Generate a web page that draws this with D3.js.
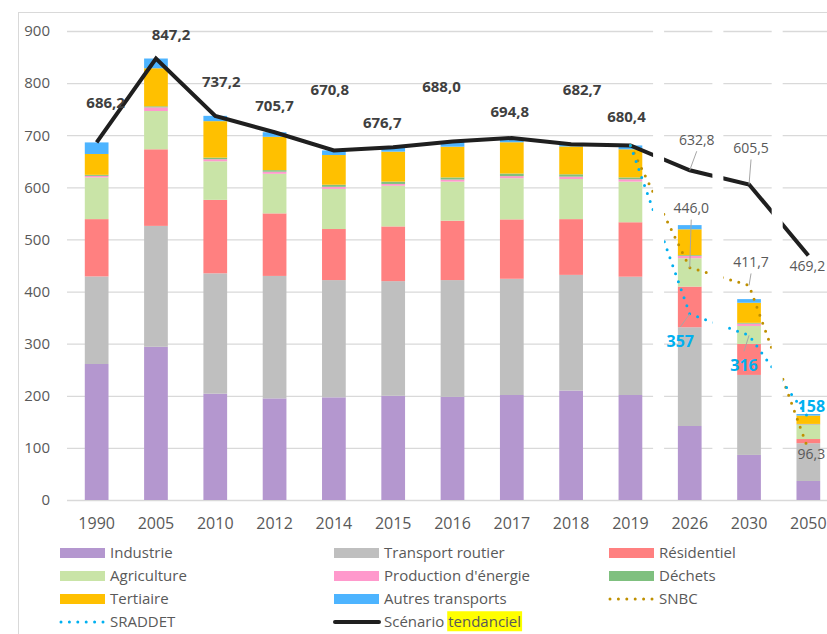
<!DOCTYPE html>
<html>
<head>
<meta charset="utf-8">
<script src="https://cdn.jsdelivr.net/npm/d3@7"></script>
<style>
  body { margin: 0; background: #fff; }
  svg { display: block; font-family: "Open Sans", sans-serif; }
</style>
</head>
<body>
<div id="canvas"></div>
<script>
"use strict"

/* categories */
let years = ["1990", "2005", "2010", "2012", "2014", "2015", "2016", "2017", "2018", "2019", "2026", "2030", "2050"];

/* emissions by sector (stacked bars, bottom to top) */
let industrie   = [261, 294, 204, 195, 197, 200, 198, 201.5, 210, 201.5, 142, 86.5, 36.5];
let transport   = [168, 232, 231, 235, 225, 220, 224, 223, 222, 227, 189.5, 153.5, 72.5];
let residentiel = [110, 147, 141, 120, 98, 105, 114, 114, 107, 104.5, 78, 59.5, 8];
let agriculture = [80, 73.5, 74, 76, 77, 78, 75, 79, 77, 78, 54.5, 34.5, 27];
let production  = [3, 7, 4, 4, 4, 3.5, 4, 4, 4.5, 4.5, 4.5, 4.5, 1];
let dechets     = [2, 2, 3, 3, 4, 4.5, 4, 5, 4.5, 3.5, 1.5, 1.5, 1];
let tertiaire   = [40, 73, 70, 64, 57, 57.5, 59, 60, 53.5, 54, 49.5, 38.5, 16];
let autres      = [22.2, 18.7, 10.2, 8.7, 8.8, 8.2, 10, 8.3, 4.2, 7.4, 8, 7, 3];

/* scenario lines */
let tendanciel = [686.2, 847.2, 737.2, 705.7, 670.8, 676.7, 688.0, 694.8, 682.7, 680.4, 632.8, 605.5, 469.2];
let scenarioYears = ["2019", "2026", "2030", "2050"];
let snbc    = [680.4, 446.0, 411.7, 96.3];
let sraddet = [680.4, 357, 316, 158];

/* y axis ticks */
let yTicks = [0, 100, 200, 300, 400, 500, 600, 700, 800, 900];

/* series names and colours */
let sectorKeys = ["Industrie", "Transport routier", "Résidentiel", "Agriculture",
                  "Production d'énergie", "Déchets", "Tertiaire", "Autres transports"];
let sectorColors = ["#b497cf", "#bfbfbf", "#ff8080", "#c9e4a7", "#ff99cc", "#7fc07f", "#ffc000", "#4db4ff"];
let sectorValues = [industrie, transport, residentiel, agriculture, production, dechets, tertiaire, autres];

/* label placement (offset of the label centre from its point) */
let tendLabelOffsets = [[9, -40], [15, -24], [6, -34], [0, -27], [-4, -61], [-11, -25], [-11, -55],
                        [-2, -26], [11, -54], [-4, -29], [7, -30], [2, -36], [-1, 11]];
let snbcLabelOffsets = [null, [1.5, -59], [2, -23], [3, 4]];
let sraddetLabelOffsets = [null, [-9.5, 27], [-5, 30], [3, -11]];

let fr = d3.formatLocale({decimal: ",", thousands: " ", grouping: [3], currency: ["", " €"]});
let fmt1 = fr.format(".1f");
let fmt0 = fr.format(".0f");

/* drawing canvas */
let drawing = d3.select("#canvas")
  .append("svg")
  .attr("width", 827)
  .attr("height", 634);

/* chart frame */
let frame = drawing.append("rect")
  .attr("x", 18.5)
  .attr("y", 12.5)
  .attr("width", 900)
  .attr("height", 700)
  .attr("fill", "none")
  .attr("stroke", "#d9d9d9");

/* scales */
let x = d3.scaleBand()
  .domain(years)
  .range([67, 838])
  .paddingInner(0.6)
  .paddingOuter(0.3);

let y = d3.scaleLinear()
  .domain([0, 900])
  .range([500, 31]);

let bw = x.bandwidth();
let cx = year => x(year) + bw / 2;

/* gridlines + y labels */
let yAxis = drawing.append("g")
  .attr("transform", "translate(67,0)")
  .call(d3.axisLeft(y).tickValues(yTicks).tickSize(-(838 - 67)).tickPadding(17).tickFormat(d3.format("d")));
yAxis.select(".domain").remove();
yAxis.selectAll("line").attr("stroke", "#d9d9d9").attr("stroke-width", 1.3);
yAxis.selectAll("text").attr("fill", "#595959").attr("font-size", 15).attr("font-family", "Open Sans");

/* x labels */
let xAxis = drawing.append("g")
  .attr("transform", "translate(0,500)")
  .call(d3.axisBottom(x).tickSize(0).tickPadding(18));
xAxis.select(".domain").remove();
xAxis.selectAll("text").attr("fill", "#595959").attr("font-size", 16).attr("font-family", "Open Sans");

/* stacked bars */
let table = years.map((yr, i) => {
  let row = {year: yr};
  sectorKeys.forEach((k, j) => row[k] = sectorValues[j][i]);
  return row;
});
let stacked = d3.stack().keys(sectorKeys)(table);

let bars = drawing.append("g")
  .selectAll("g")
  .data(stacked)
  .join("g")
  .attr("fill", (d, i) => sectorColors[i])
  .selectAll("rect")
  .data(d => d)
  .join("rect")
  .attr("x", d => x(d.data.year))
  .attr("y", d => y(d[1]))
  .attr("width", bw)
  .attr("height", d => y(d[0]) - y(d[1]));

/* lines */
let line = d3.line()
  .x(d => cx(d.year))
  .y(d => y(d.value));

let tendPts = years.map((yr, i) => ({year: yr, value: tendanciel[i]}));
let snbcPts = scenarioYears.map((yr, i) => ({year: yr, value: snbc[i]}));
let sraddetPts = scenarioYears.map((yr, i) => ({year: yr, value: sraddet[i]}));

let tendLine = drawing.append("path")
  .datum(tendPts)
  .attr("d", line)
  .attr("fill", "none")
  .attr("stroke", "#1f1f1f")
  .attr("stroke-width", 4);

let snbcLine = drawing.append("path")
  .datum(snbcPts)
  .attr("d", line)
  .attr("fill", "none")
  .attr("stroke", "#bf9000")
  .attr("stroke-width", 3)
  .attr("stroke-linecap", "round")
  .attr("stroke-dasharray", "0,8.5");

let sraddetLine = drawing.append("path")
  .datum(sraddetPts)
  .attr("d", line)
  .attr("fill", "none")
  .attr("stroke", "#00b0f0")
  .attr("stroke-width", 3)
  .attr("stroke-linecap", "round")
  .attr("stroke-dasharray", "0,8.5");

/* white separators before the forecast years */
let gaps = drawing.append("g")
  .selectAll("rect")
  .data(["2026", "2030", "2050"])
  .join("rect")
  .attr("x", d => x(d) - x.step() * 0.3 - 7)
  .attr("y", 13)
  .attr("width", 11)
  .attr("height", 484)
  .attr("fill", "white");

/* labels */
function addLabels(pts, offsets, opts) {
  let g = drawing.append("g");
  pts.forEach((p, i) => {
    let off = offsets[i];
    if (!off) return;
    let px = cx(p.year), py = y(p.value);
    let lx = px + off[0], ly = py + off[1];
    let o = opts(i);
    if (o.leader) {
      g.append("line")
        .attr("x1", lx)
        .attr("y1", ly + (off[1] < 0 ? 11 : -14))
        .attr("x2", px)
        .attr("y2", py)
        .attr("stroke", "#a6a6a6")
        .attr("stroke-width", 1);
    }
    g.append("text")
      .attr("x", lx)
      .attr("y", ly)
      .attr("dy", "0.35em")
      .attr("text-anchor", "middle")
      .attr("font-size", o.size)
      .attr("font-weight", o.weight)
      .attr("fill", o.color)
      .text(o.format(p.value));
  });
}

addLabels(tendPts, tendLabelOffsets, i => i < 10
  ? {size: 15, weight: "bold", color: "#404040", format: fmt1, leader: false}
  : {size: 14, weight: "normal", color: "#595959", format: fmt1, leader: i < 12});

addLabels(snbcPts, snbcLabelOffsets, i => (
  {size: 14, weight: "normal", color: "#595959", format: fmt1, leader: i < 3}));

addLabels(sraddetPts, sraddetLabelOffsets, i => (
  {size: 16, weight: "bold", color: "#00b0f0", format: fmt0, leader: i < 3}));

/* legend */
let legendItems = sectorKeys.map((k, i) => ({name: k, type: "swatch", color: sectorColors[i]}));
legendItems.push({name: "SNBC", type: "dots", color: "#bf9000"});
legendItems.push({name: "SRADDET", type: "dots", color: "#00b0f0"});
legendItems.push({name: "Scénario ", highlight: "tendanciel", type: "line", color: "#1f1f1f"});

let legendCols = [60, 334, 609];
let legend = drawing.append("g");

legendItems.forEach((item, i) => {
  let lx = legendCols[i % 3];
  let ly = 553 + Math.floor(i / 3) * 23;
  if (item.type === "swatch") {
    legend.append("rect")
      .attr("x", lx).attr("y", ly - 5)
      .attr("width", 45).attr("height", 10)
      .attr("fill", item.color);
  } else if (item.type === "dots") {
    legend.append("line")
      .attr("x1", lx + 1).attr("x2", lx + 44)
      .attr("y1", ly).attr("y2", ly)
      .attr("stroke", item.color)
      .attr("stroke-width", 3)
      .attr("stroke-linecap", "round")
      .attr("stroke-dasharray", "0,8.4");
  } else {
    legend.append("line")
      .attr("x1", lx + 1).attr("x2", lx + 45)
      .attr("y1", ly).attr("y2", ly)
      .attr("stroke", item.color)
      .attr("stroke-width", 4)
      .attr("stroke-linecap", "round");
  }
  let t = legend.append("text")
    .attr("x", lx + 50)
    .attr("y", ly)
    .attr("dy", "0.35em")
    .attr("font-size", 15)
    .attr("fill", "#595959")
    .text(item.name);
  if (item.highlight) {
    let ts = t.append("tspan").text(item.highlight);
    let bb = ts.node().getBBox();
    legend.insert("rect", "text")
      .attr("x", bb.x - 1)
      .attr("y", bb.y)
      .attr("width", bb.width + 2)
      .attr("height", bb.height)
      .attr("fill", "#ffff00");
  }
});
</script>
</body>
</html>
